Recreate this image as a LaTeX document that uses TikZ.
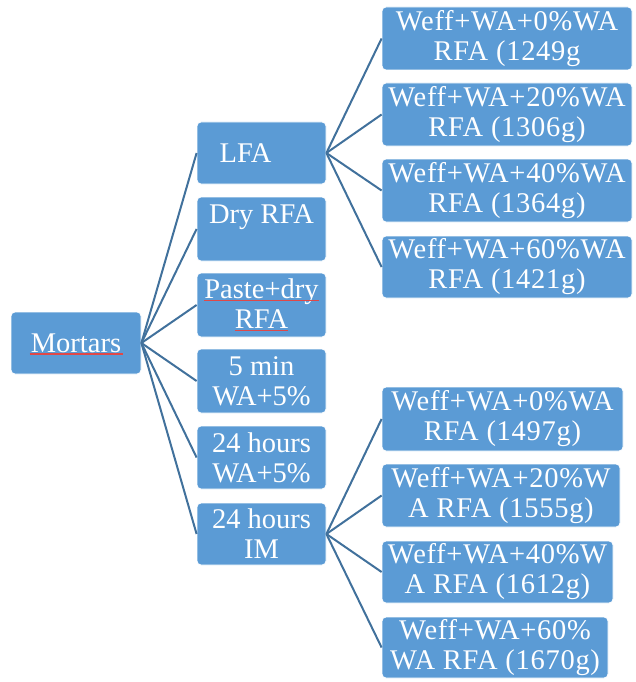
\documentclass[tikz,border=0pt]{standalone}
\usepackage{fontspec}
\setmainfont{Liberation Serif}
\definecolor{boxblue}{HTML}{5B9BD5}
\definecolor{linkblue}{HTML}{41719C}
\definecolor{spell}{HTML}{E04848}
\newcommand{\spellul}[1]{\textcolor{spell}{\underline{\textcolor{white}{\raisebox{0pt}[\height][0pt]{#1}}}}}
\begin{document}
\begin{tikzpicture}[x=1pt,y=-1pt,
  box/.style={draw=white, line width=0.8pt, fill=boxblue, rounded corners=4pt,
    text=white, align=center, inner sep=0pt,
    font=\fontsize{28.5}{30}\selectfont},
  wide/.style={box, font=\fontsize{28.5}{30}\selectfont\addfontfeature{LetterSpace=2.5}},
  link/.style={draw=linkblue, line width=2pt},
  spellline/.style={draw=spell, line width=1.2pt}]
\useasboundingbox (0,0) rectangle (635,682);
% root
\node[box, minimum width=130, minimum height=62] (mort) at (76,343) {Mortars};
\draw[spellline] ([shift={(-46.5,11)}]mort.center) -- ([shift={(46.5,11)}]mort.center);
% middle column
\node[box, minimum width=129, minimum height=62] (lfa) at (261.5,153) {LFA\rule{32pt}{0pt}};
\node[box, minimum width=129, minimum height=64] (dry) at (261.5,229) {Dry RFA\\\mbox{}};
\node[box, minimum width=129, minimum height=64] (paste) at (261.5,305) {\spellul{Paste+dry}\\\spellul{RFA}};
\node[box, minimum width=129, minimum height=64] (five) at (261.5,381) {5 min\\WA+5\%};
\node[box, minimum width=129, minimum height=63] (hwa) at (261.5,457.5) {24 hours\\WA+5\%};
\node[box, minimum width=129, minimum height=62] (him) at (261.5,534) {24 hours\\IM};
% right column, LFA group
\node[wide, minimum width=250, minimum height=63] (a1) at (507,38.5) {Weff+WA+0\%WA\\RFA (1249g};
\node[wide, minimum width=250, minimum height=63] (a2) at (507,114.5) {Weff+WA+20\%WA\\RFA (1306g)};
\node[wide, minimum width=250, minimum height=63] (a3) at (507,190.5) {Weff+WA+40\%WA\\RFA (1364g)};
\node[wide, minimum width=250, minimum height=62] (a4) at (507,267) {Weff+WA+60\%WA\\RFA (1421g)};
% right column, IM group
\node[wide, minimum width=241, minimum height=64] (b1) at (502.5,419) {Weff+WA+0\%WA\\RFA (1497g)};
\node[wide, minimum width=238, minimum height=63] (b2) at (501,495.5) {Weff+WA+20\%W\\A RFA (1555g)};
\node[wide, minimum width=231, minimum height=62] (b3) at (497.5,572) {Weff+WA+40\%W\\A RFA (1612g)};
\node[wide, minimum width=226, minimum height=61] (b4) at (495,647.5) {Weff+WA+60\%\\WA RFA (1670g)};
% connectors
\foreach \n in {lfa,dry,paste,five,hwa,him}
  \draw[link] (mort.east) -- (\n.west);
\foreach \n in {a1,a2,a3,a4}
  \draw[link] (lfa.east) -- (\n.west);
\foreach \n in {b1,b2,b3,b4}
  \draw[link] (him.east) -- (\n.west);
\end{tikzpicture}
\end{document}
